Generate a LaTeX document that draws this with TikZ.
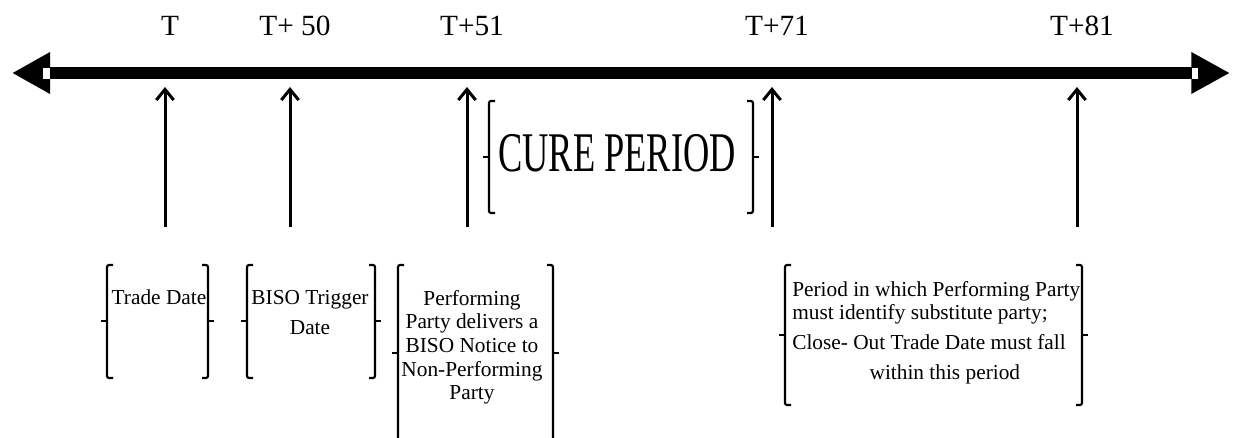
\documentclass[tikz,border=0pt]{standalone}
\usepackage{fontspec}
\setmainfont{Liberation Serif}
\usetikzlibrary{arrows.meta,positioning,calc}

\begin{document}
\begin{tikzpicture}[x=0.75pt,y=-0.75pt,
   axis/.style={line width=9pt,{Triangle[length=28.5pt,width=29.25pt]}-{Triangle[length=29pt,width=29.25pt]}},
   tick/.style={line width=2.25pt,-{Straight Barb[length=8pt,width=13pt]}},
   brk/.style={line width=1.6pt,rounded corners=1.5pt},
   datelbl/.style={anchor=base,inner sep=0pt,font=\fontsize{22}{26}\selectfont},
   boxtxt/.style={anchor=base,inner sep=0pt,align=center,font=\fontsize{16}{22.5}\selectfont}]
  \useasboundingbox (0,0) rectangle (1233,438);
  % time line
  \coordinate (L) at (12,73);
  \coordinate (R) at (1230,73);
  \draw[axis] (L) -- (R);
  \fill[white] (43,68) rectangle (50,79);
  \fill[white] (1192,68) rectangle (1198,79);
  % dates and their arrows
  \foreach \x/\lab/\nm in {165/T/t,290/T+ 50/t50,467/T+51/t51,772/T+71/t71,1077/T+81/t81}{
    \node[datelbl] (\nm) at (\x+5,36) {\lab};
    \coordinate (\nm top) at (\x,87);
    \coordinate (\nm bot) at (\x,227);
    \draw[tick] (\nm bot) -- (\nm top);
  }
  % bracket pairs: left/right/top/bottom/middle
  \foreach \l/\r/\t/\b/\m in {107/208/265/378/321,247/375/265/378/321,398/553/265/442/353,785/1082/265/405/335,489/753/101/213/157}{
    \draw[brk] (\l+6,\t) -- (\l,\t) -- (\l,\b) -- (\l+6,\b);
    \draw[brk] (\r-6,\t) -- (\r,\t) -- (\r,\b) -- (\r-6,\b);
    \draw[line width=1.6pt] (\l,\m) -- (\l-6,\m) (\r,\m) -- (\r+6,\m);
  }
  \node[anchor=base,inner sep=0pt,font=\fontsize{42}{48}\selectfont] (cure) at (617,172) {\scalebox{0.65}[1]{CURE PERIOD}};
  % multi-line texts sit on the baseline of their last line
  \node[boxtxt] (trade) at (159,305) {Trade Date};
  \node[boxtxt] (trigger) at (310,335) {BISO Trigger\\Date};
  \node[boxtxt,font=\fontsize{16}{17.8}\selectfont] (notice) at (472,400)
    {Performing\\Party delivers a\\BISO Notice to\\Non-Performing\\Party};
  \node[boxtxt,anchor=base west,align=left,font=\fontsize{16}{17.5}\selectfont] (subst) at (792,380)
    {Period in which Performing Party\\must identify substitute party;\\[5pt]Close- Out Trade Date must fall\\[5pt]\hspace*{58pt}within this period};
\end{tikzpicture}
\end{document}
